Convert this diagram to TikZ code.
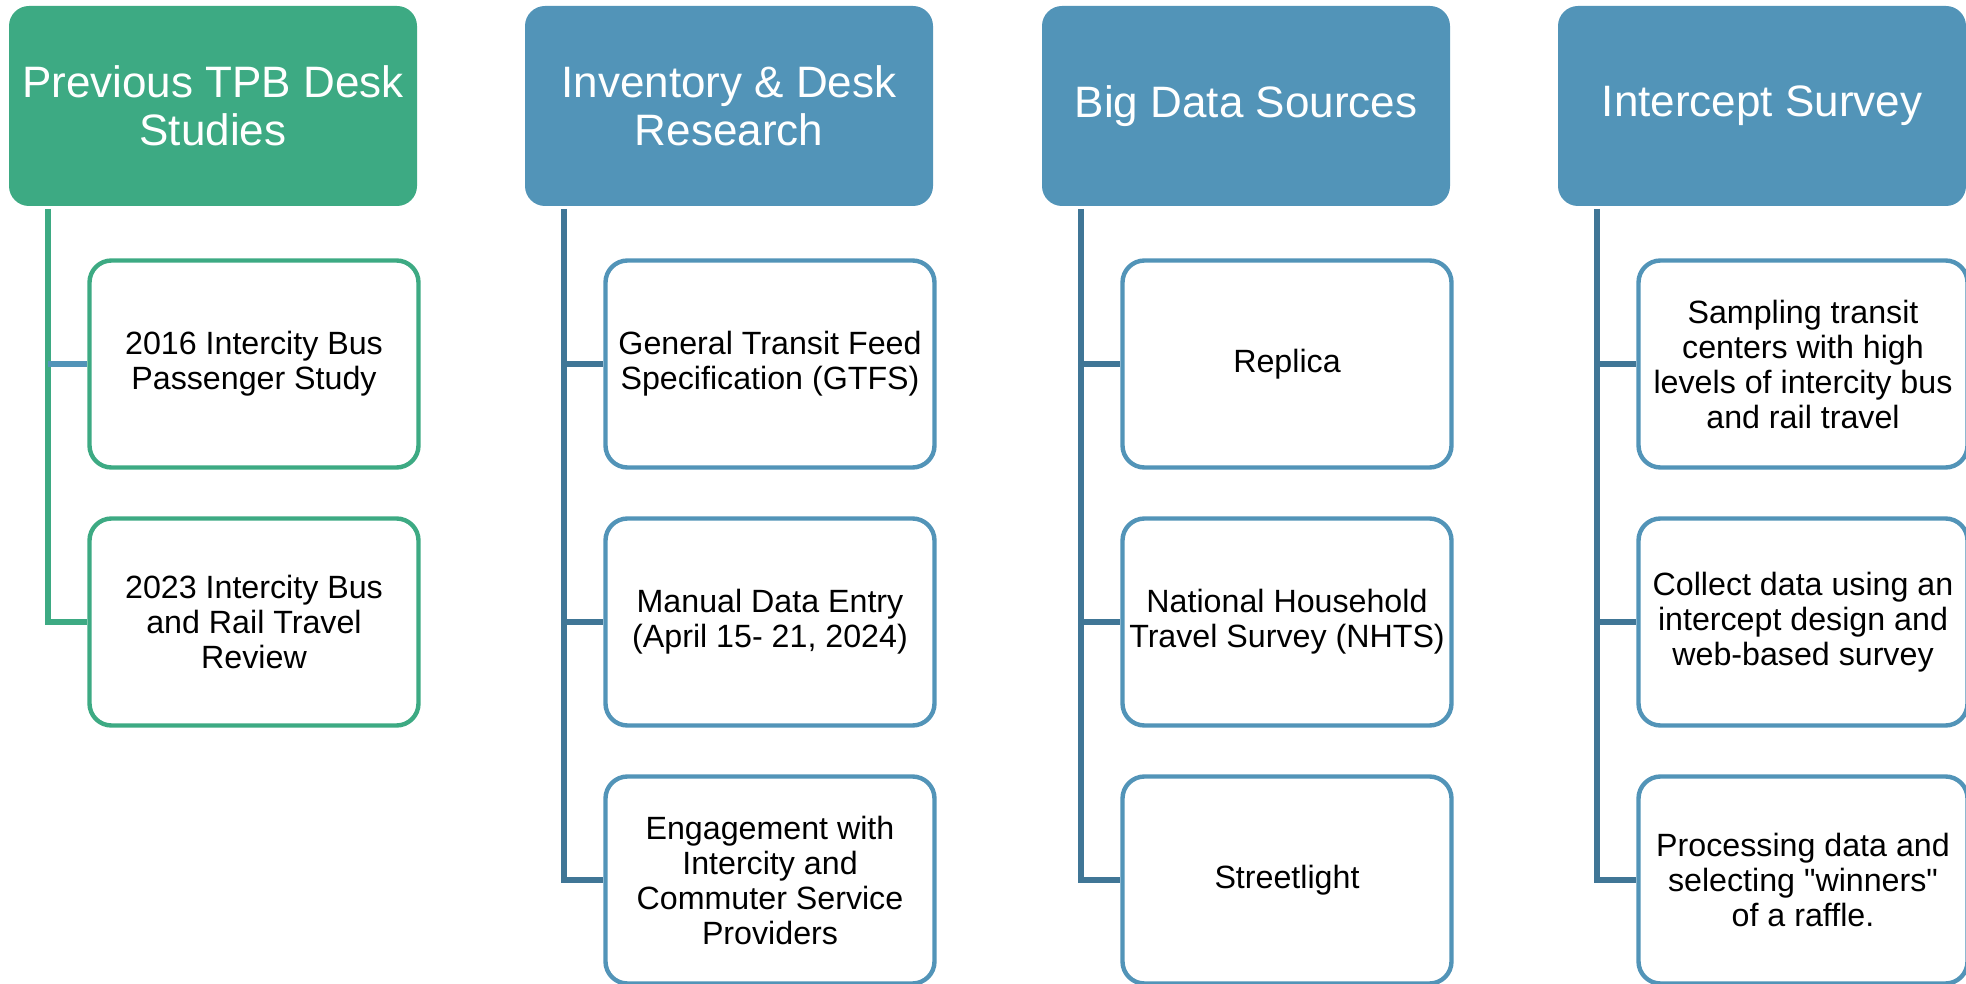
\documentclass[tikz,border=0pt]{standalone}
\usepackage{fontspec}
\setmainfont{Liberation Sans}[Ligatures=TeXOff]

\definecolor{deskgreen}{RGB}{61,170,131}
\definecolor{headblue}{RGB}{82,148,184}
\definecolor{trunkblue}{RGB}{64,118,150}

\tikzset{every picture/.style={line width=0.75pt}}
\tikzset{
  header/.style={rounded corners=10pt, minimum width=204pt, minimum height=100pt,
    inner sep=0pt, align=center, text=white, font=\fontsize{22}{24}\selectfont},
  item/.style={draw, fill=white, line width=2.2pt, rounded corners=11pt,
    minimum width=164.5pt, minimum height=103.5pt, inner sep=0pt, align=center,
    font=\fontsize{16.1}{17.5}\selectfont},
  trunk/.style={line width=2.8pt, line join=miter},
}

\begin{document}
\begin{tikzpicture}[x=0.5pt,y=0.5pt,yscale=-1,xscale=1]
\useasboundingbox (0,0) rectangle (1966,984);

% Column: Previous TPB Desk Studies
\node (head1) [header, fill=deskgreen] at (213,106) {Previous TPB Desk\\Studies};
\node (box11) [item, draw=deskgreen] at (254,364) {2016 Intercity Bus\\Passenger Study};
\node (box12) [item, draw=deskgreen] at (254,622) {2023 Intercity Bus\\and Rail Travel\\Review};
\coordinate (top1) at (48,209);
\draw [trunk, deskgreen] (top1) |- (box12.west) ;
\draw [trunk, headblue] (top1 |- box11.west) -- (box11.west) ;

% Column: Inventory & Desk Research
\node (head2) [header, fill=headblue] at (729,106) {Inventory \& Desk\\Research};
\node (box21) [item, draw=headblue] at (770,364) {General Transit Feed\\Specification (GTFS)};
\node (box22) [item, draw=headblue] at (770,622) {Manual Data Entry\\(April 15- 21, 2024)};
\node (box23) [item, draw=headblue] at (770,880) {Engagement with\\Intercity and\\Commuter Service\\Providers};
\coordinate (top2) at (564,209);
\draw [trunk, trunkblue] (top2) |- (box23.west) ;
\draw [trunk, trunkblue] (top2 |- box21.west) -- (box21.west) ;
\draw [trunk, trunkblue] (top2 |- box22.west) -- (box22.west) ;

% Column: Big Data Sources
\node (head3) [header, fill=headblue] at (1246,106) {Big Data Sources};
\node (box31) [item, draw=headblue] at (1287,364) {Replica};
\node (box32) [item, draw=headblue] at (1287,622) {National Household\\Travel Survey (NHTS)};
\node (box33) [item, draw=headblue] at (1287,880) {Streetlight};
\coordinate (top3) at (1081,209);
\draw [trunk, trunkblue] (top3) |- (box33.west) ;
\draw [trunk, trunkblue] (top3 |- box31.west) -- (box31.west) ;
\draw [trunk, trunkblue] (top3 |- box32.west) -- (box32.west) ;

% Column: Intercept Survey
\node (head4) [header, fill=headblue] at (1762,106) {Intercept Survey};
\node (box41) [item, draw=headblue] at (1803,364) {Sampling transit\\centers with high\\levels of intercity bus\\and rail travel};
\node (box42) [item, draw=headblue] at (1803,622) {Collect data using an\\intercept design and\\web-based survey};
\node (box43) [item, draw=headblue] at (1803,880) {Processing data and\\selecting "winners"\\of a raffle.};
\coordinate (top4) at (1597,209);
\draw [trunk, trunkblue] (top4) |- (box43.west) ;
\draw [trunk, trunkblue] (top4 |- box41.west) -- (box41.west) ;
\draw [trunk, trunkblue] (top4 |- box42.west) -- (box42.west) ;

\end{tikzpicture}
\end{document}
